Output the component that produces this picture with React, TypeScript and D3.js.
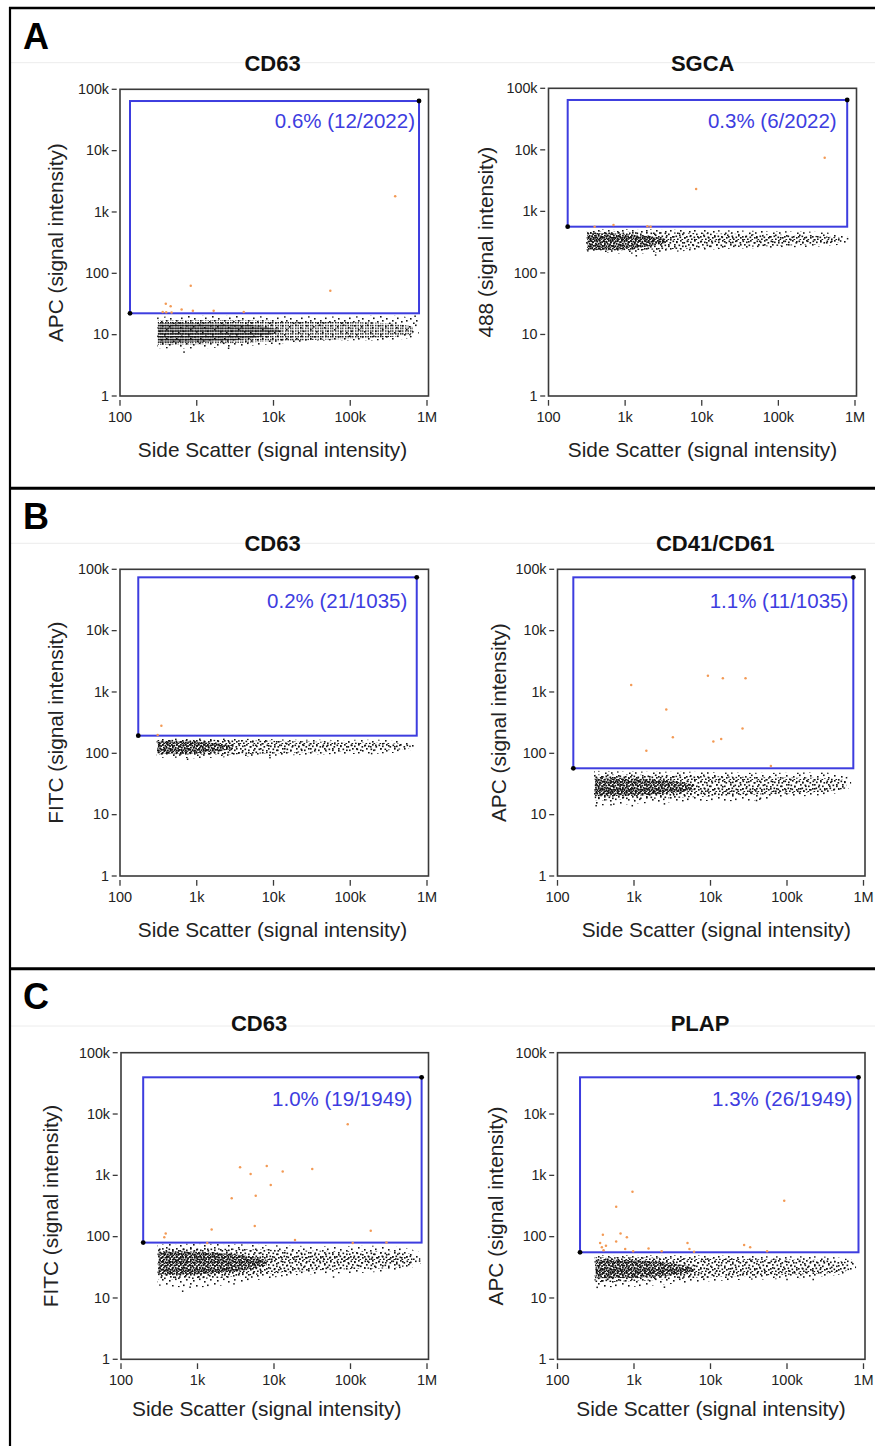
import React from 'react';
import * as d3 from 'd3';

// ---------- tick labels / texts ----------
const yTickValues = [1, 10, 100, 1000, 10000, 100000];
const yTickLabels = ['1', '10', '100', '1k', '10k', '100k'];
const xTickValues = [100, 1000, 10000, 100000, 1000000];
const xTickLabels = ['100', '1k', '10k', '100k', '1M'];

const panelLetters = ['A', 'B', 'C'];
const titles = ['CD63', 'SGCA', 'CD63', 'CD41/CD61', 'CD63', 'PLAP'];
const yTitles = [
  'APC (signal intensity)',
  '488 (signal intensity)',
  'FITC (signal intensity)',
  'APC (signal intensity)',
  'FITC (signal intensity)',
  'APC (signal intensity)',
];
const xTitle = 'Side Scatter (signal intensity)';
const gateLabels = ['0.6% (12/2022)', '0.3% (6/2022)', '0.2% (21/1035)', '1.1% (11/1035)', '1.0% (19/1949)', '1.3% (26/1949)'];

// gate bounds: [sscMin, sscMax, fluorMin, fluorMax]
const gates = [
  [135, 787000, 22.3, 64400],
  [178, 791000, 564, 64600],
  [173, 735000, 194, 74000],
  [161, 736000, 57, 74000],
  [195, 850000, 80, 39700],
  [197, 860000, 55.6, 39700],
];

// ---------- population envelopes [ssc, low, high] ----------
const a1Outer = [[305, 6.0, 19.5], [1000, 5.8, 20.5], [3000, 6.3, 20], [10000, 7.0, 20], [30000, 8.0, 20], [100000, 8.0, 19.5], [300000, 8.0, 21], [600000, 8.6, 19.5], [780000, 10, 17]];
const a1Mid = [[310, 6.8, 17], [2000, 7.0, 17.5], [10000, 7.8, 17], [100000, 8.6, 16], [400000, 9.0, 15.5], [650000, 10.5, 13.5]];
const a1Core = [[315, 7.4, 15.5], [1000, 7.5, 15.5], [3000, 8.0, 15], [7000, 9.0, 14], [12000, 11, 12]];

const a2Outer = [[310, 222, 500], [1000, 200, 520], [3000, 212, 510], [10000, 240, 500], [30000, 250, 490], [100000, 255, 470], [300000, 265, 470], [650000, 280, 440], [820000, 320, 390]];
const a2Mid = [[315, 232, 470], [1100, 228, 470], [10000, 255, 440], [100000, 275, 420], [400000, 290, 400], [650000, 320, 370]];
const a2Core = [[320, 240, 445], [600, 235, 440], [1100, 245, 430], [2000, 265, 400], [3500, 310, 350]];

const b1Outer = [[300, 85, 175], [1000, 82, 180], [3000, 88, 175], [10000, 90, 170], [30000, 95, 165], [100000, 98, 165], [300000, 98, 168], [500000, 105, 160], [680000, 118, 145]];
const b1Mid = [[305, 95, 165], [1100, 92, 168], [8000, 100, 160], [100000, 108, 150], [400000, 112, 148], [600000, 122, 138]];
const b1Core = [[310, 100, 155], [800, 98, 158], [1600, 105, 148], [3000, 118, 135]];

const b2Outer = [[300, 14, 52], [1000, 15, 50], [3000, 16, 50], [10000, 17, 50], [30000, 16, 48], [100000, 20, 48], [300000, 20, 50], [500000, 23, 46], [690000, 28, 40]];
const b2Mid = [[305, 17, 45], [2000, 18, 45], [10000, 20, 42], [100000, 22, 40], [400000, 24, 40], [600000, 27, 36]];
const b2Core = [[310, 20, 40], [1000, 20, 40], [3000, 22, 36], [6000, 26, 31]];

const c1Outer = [[300, 16, 75], [1000, 14, 78], [3000, 17, 75], [10000, 22, 72], [30000, 25, 70], [100000, 25, 70], [300000, 27, 72], [600000, 30, 65], [820000, 36, 55]];
const c1Mid = [[305, 20, 65], [1500, 20, 66], [10000, 26, 60], [100000, 30, 58], [400000, 30, 58], [650000, 35, 52]];
const c1Core = [[310, 24, 58], [1000, 24, 58], [3500, 27, 52], [8000, 34, 42]];

const c2Outer = [[305, 15, 50], [1000, 15, 50], [3000, 17, 50], [10000, 19, 50], [30000, 20, 48], [100000, 20, 48], [300000, 22, 48], [600000, 25, 45], [800000, 29, 40]];
const c2Mid = [[310, 18, 46], [1500, 19, 46], [10000, 22, 44], [100000, 24, 42], [400000, 25, 42], [650000, 28, 38]];
const c2Core = [[315, 21, 42], [1000, 21, 42], [3000, 23, 38], [6000, 27, 32]];

// ---------- stray (ungated) events [ssc, fluor] ----------
const a1Stray = [[683, 5.2], [2600, 6.0], [12000, 7.1], [600000, 10], [700000, 20]];
const a2Stray = [[1400, 190], [2500, 195], [800000, 360], [650000, 330]];
const b1Stray = [[760, 80], [9000, 85], [190000, 99], [600000, 130]];
const b2Stray = [[320, 14], [500, 14.5], [950, 14], [2500, 15], [40000, 17], [45000, 18.5], [600000, 40]];
const c1Stray = [[640, 12.9], [800, 15], [3000, 17], [60000, 22], [800000, 40]];
const c2Stray = [[330, 14.9], [2500, 15], [220000, 20], [100000, 20], [700000, 38]];

// ---------- gated (positive) events [ssc, fluor] ----------
const a1Gated = [[385000, 1800], [55000, 52], [835, 62.5], [395, 32], [457, 29], [635, 25.7], [890, 24.5], [1660, 24.5], [4100, 23.4], [360, 23.4], [400, 23.2], [470, 23]];
const a2Gated = [[8450, 2300], [402000, 7450], [400, 563], [705, 598], [1950, 573], [2150, 565]];
const b1Gated = [[346, 281], [310, 198]];
const b2Gated = [[918, 1300], [2640, 520], [9250, 1840], [14500, 1670], [28700, 1670], [26200, 255], [1450, 110], [3220, 182], [10900, 156], [13800, 171], [61500, 62]];
const c1Gated = [[92000, 6800], [3600, 1350], [4950, 1050], [8040, 1420], [13000, 1160], [31600, 1270], [9060, 695], [2800, 422], [5770, 465], [5600, 149], [384, 113], [368, 98], [1530, 131], [184000, 125], [18800, 88], [1340, 79], [107000, 79], [295000, 80]];
const c2Gated = [[955, 541], [585, 307], [92000, 385], [392, 107], [667, 113], [807, 98], [585, 83], [361, 79], [430, 71], [380, 67], [5000, 79], [5300, 63], [27500, 73], [33000, 67], [1550, 64], [767, 63], [55000, 58], [2300, 58], [975, 58], [400, 60], [6100, 57]];

const outers = [a1Outer, a2Outer, b1Outer, b2Outer, c1Outer, c2Outer];
const mids = [a1Mid, a2Mid, b1Mid, b2Mid, c1Mid, c2Mid];
const cores = [a1Core, a2Core, b1Core, b2Core, c1Core, c2Core];
const strays = [a1Stray, a2Stray, b1Stray, b2Stray, c1Stray, c2Stray];
const gateds = [a1Gated, a2Gated, b1Gated, b2Gated, c1Gated, c2Gated];

// ---------- layout (pixels) ----------
const LAYOUT = [
  { x0: 120, x1: 427, y0: 396, y1: 89.3, tX: 272.5, tY: 70.5, ytX: 63.3, xtX: 272.5, xtY: 456.7, lX: 415, lY: 128.3, striped: true },
  { x0: 548.5, x1: 855, y0: 396, y1: 88.3, tX: 702.7, tY: 70.5, ytX: 493.3, xtX: 702.5, xtY: 456.7, lX: 836.7, lY: 128.3 },
  { x0: 120, x1: 427, y0: 876, y1: 569.3, tX: 272.5, tY: 550.5, ytX: 63.3, xtX: 272.5, xtY: 936.7, lX: 407.3, lY: 607.7 },
  { x0: 557.5, x1: 863.5, y0: 876, y1: 569.3, tX: 715.3, tY: 550.5, ytX: 505.5, xtX: 716.3, xtY: 936.7, lX: 848.3, lY: 607.7 },
  { x0: 121, x1: 427, y0: 1359.3, y1: 1052.7, tX: 259, tY: 1030.5, ytX: 58.3, xtX: 266.7, xtY: 1416, lX: 412.3, lY: 1105.7 },
  { x0: 557.5, x1: 863.5, y0: 1359.3, y1: 1052.7, tX: 700, tY: 1030.5, ytX: 503.3, xtX: 711, xtY: 1416, lX: 852.3, lY: 1105.7 },
];

const FONT = "'Liberation Sans', Arial, Helvetica, sans-serif";
const BLUE = '#3d3ddf';
const ORANGE = '#f39a55';
const FRAME = '#3a3a3a';

// speckle textures (styling only): [x, y] offsets inside each tile
const PATTERNS: Record<string, { w: number; h: number; s: number; sh?: number; pts: number[][] }> = {
  sparse: {
    w: 24, h: 18, s: 1.6,
    pts: [[1, 2], [7, 0.5], [12, 3], [18, 1], [22, 5], [4, 7], [10, 8], [15, 6.5], [20, 10], [2, 12], [8, 14], [13, 11.5], [17, 15], [22, 14], [5, 16.5], [11, 16.2]],
  },
  mid: {
    w: 14, h: 12, s: 1.65,
    pts: [[0.5, 0.5], [4, 1.5], [8, 0], [11.5, 2], [2, 4], [6.5, 4.5], [10, 5.5], [0, 8], [3.5, 7.5], [7.5, 8.5], [12, 9], [1.5, 11], [5, 10.5], [9.5, 11]],
  },
  dense: {
    w: 9, h: 8, s: 1.75,
    pts: [[0, 0], [2.5, 0.8], [5, 0], [7.2, 1.2], [1, 2.8], [3.8, 3], [6.2, 3.5], [0.2, 5], [2.6, 5.3], [5, 5.6], [7.5, 5], [1.4, 7], [4, 7.4], [6.5, 7.2]],
  },
  stripeMid: { w: 10, h: 2.8, s: 1.5, sh: 1.4, pts: [[0, 0], [2, 0], [5, 0], [7.5, 0]] },
  stripeDense: { w: 6, h: 2.8, s: 1.6, sh: 1.4, pts: [[0, 0], [1.5, 0], [3, 0], [4.5, 0]] },
};

function Panel({ i }: { i: number }) {
  const L = LAYOUT[i];
  const x = d3.scaleLog().domain([100, 1e6]).range([L.x0, L.x1]);
  const y = d3.scaleLog().domain([1, 1e5]).range([L.y0, L.y1]);
  const area = d3
    .area<number[]>()
    .x((d) => x(d[0]))
    .y0((d) => y(d[1]))
    .y1((d) => y(d[2]))
    .curve(d3.curveBasis);
  const [gx0, gx1, gy0, gy1] = gates[i];
  const midPat = L.striped ? 'stripeMid' : 'mid';
  const corePat = L.striped ? 'stripeDense' : 'dense';
  const yc = (L.y0 + L.y1) / 2;
  return (
    <g>
      <text x={L.tX} y={L.tY} textAnchor="middle" fontWeight="bold" fontSize={22} fill="#111">
        {titles[i]}
      </text>
      {/* population */}
      <path d={area(outers[i] as any) || ''} fill="url(#pat-sparse)" />
      <path d={area(mids[i] as any) || ''} fill={`url(#pat-${midPat})`} />
      <path d={area(cores[i] as any) || ''} fill={`url(#pat-${corePat})`} />
      {strays[i].map((d, k) => (
        <rect key={'s' + k} x={x(d[0]) - 0.75} y={y(d[1]) - 0.75} width={1.5} height={1.5} fill="#111" />
      ))}
      {/* frame */}
      <rect x={L.x0} y={L.y1} width={L.x1 - L.x0 + 1.5} height={L.y0 - L.y1} fill="none" stroke={FRAME} strokeWidth={1.6} />
      {/* y axis */}
      {yTickValues.map((v, k) => (
        <g key={'y' + k}>
          <line x1={L.x0 - 8.3} x2={L.x0 - 3.3} y1={y(v)} y2={y(v)} stroke={FRAME} strokeWidth={1.3} />
          <text x={L.x0 - 11} y={y(v) + 4.8} textAnchor="end" fontSize={14.3} fill="#222">
            {yTickLabels[k]}
          </text>
        </g>
      ))}
      {/* x axis */}
      {xTickValues.map((v, k) => (
        <g key={'x' + k}>
          <line x1={x(v)} x2={x(v)} y1={L.y0 + 4} y2={L.y0 + 9.7} stroke={FRAME} strokeWidth={1.3} />
          <text x={x(v)} y={L.y0 + 25.7} textAnchor="middle" fontSize={14.5} fill="#222">
            {xTickLabels[k]}
          </text>
        </g>
      ))}
      <text x={L.xtX} y={L.xtY} textAnchor="middle" fontSize={20.8} fill="#222">
        {xTitle}
      </text>
      <text transform={`translate(${L.ytX},${yc}) rotate(-90)`} textAnchor="middle" fontSize={20.8} fill="#222">
        {yTitles[i]}
      </text>
      {/* gate */}
      <rect x={x(gx0)} y={y(gy1)} width={x(gx1) - x(gx0)} height={y(gy0) - y(gy1)} fill="none" stroke={BLUE} strokeWidth={2} />
      {gateds[i].map((d, k) => (
        <circle key={'g' + k} cx={x(d[0])} cy={y(d[1])} r={1.25} fill={ORANGE} />
      ))}
      <circle cx={x(gx0)} cy={y(gy0)} r={2.4} fill="#000" />
      <circle cx={x(gx1)} cy={y(gy1)} r={2.4} fill="#000" />
      <text x={L.lX} y={L.lY} textAnchor="end" fontSize={20.5} fill={BLUE}>
        {gateLabels[i]}
      </text>
    </g>
  );
}

export default function App() {
  return (
    <svg
      width={875}
      height={1446}
      style={{ position: 'absolute', left: 0, top: 0, background: '#fff' }}
      fontFamily={FONT}
    >
      <defs>
        {Object.entries(PATTERNS).map(([name, p]) => (
          <pattern key={name} id={`pat-${name}`} patternUnits="userSpaceOnUse" width={p.w} height={p.h}>
            {p.pts.map((r, k) => (
              <rect key={k} x={r[0]} y={r[1]} width={p.s} height={p.sh || p.s} fill="#111" />
            ))}
          </pattern>
        ))}
      </defs>
      <rect x={0} y={0} width={875} height={1446} fill="#fff" />
      {/* faint section rules */}
      {[62.7, 543.3, 1026].map((yy, k) => (
        <line key={'f' + k} x1={10} x2={875} y1={yy} y2={yy} stroke="#ececec" strokeWidth={1} />
      ))}
      {/* frame borders */}
      <line x1={9} x2={875} y1={8} y2={8} stroke="#000" strokeWidth={2.5} />
      <line x1={10} x2={10} y1={7} y2={1446} stroke="#000" strokeWidth={2.2} />
      <line x1={9} x2={875} y1={488.3} y2={488.3} stroke="#000" strokeWidth={3} />
      <line x1={9} x2={875} y1={968.7} y2={968.7} stroke="#000" strokeWidth={3} />
      {panelLetters.map((t, k) => (
        <text key={t} x={23} y={49.3 + k * 480} fontSize={36} fontWeight="bold" fill="#000">
          {t}
        </text>
      ))}
      {LAYOUT.map((_, i) => (
        <Panel key={i} i={i} />
      ))}
    </svg>
  );
}
